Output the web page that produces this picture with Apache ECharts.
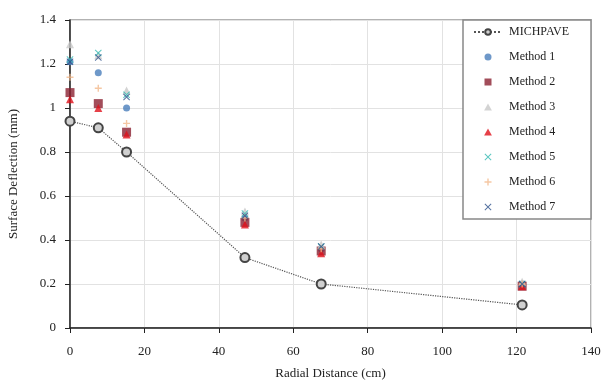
<!DOCTYPE html>
<html><head><meta charset="utf-8">
<script src="https://cdn.jsdelivr.net/npm/echarts@6/dist/echarts.min.js"></script>
<style>html,body{margin:0;padding:0;background:#fff}#c{width:607px;height:383px}</style>
</head><body><div id="c"></div>
<script>
const distances = [0, 7.6, 15.2, 47, 67.5, 121.5];
const michpave = [0.94, 0.91, 0.80, 0.32, 0.20, 0.105];
const method1 = [1.21, 1.16, 1.00, 0.50, 0.36, 0.20];
const method2 = [1.07, 1.02, 0.89, 0.48, 0.35, 0.19];
const method3 = [1.29, 1.24, 1.08, 0.53, 0.38, 0.21];
const method4 = [1.04, 1.00, 0.88, 0.47, 0.34, 0.19];
const method5 = [1.22, 1.25, 1.06, 0.52, 0.37, 0.20];
const method6 = [1.14, 1.09, 0.93, 0.50, 0.36, 0.20];
const method7 = [1.21, 1.23, 1.05, 0.51, 0.37, 0.20];
const xTicks = [0, 20, 40, 60, 80, 100, 120, 140];
const yTicks = [0, 0.2, 0.4, 0.6, 0.8, 1, 1.2, 1.4];

const pair = arr => distances.map((d, i) => [d, arr[i]]);
const X = 'path://M0,1 L1,0 L5,4 L9,0 L10,1 L6,5 L10,9 L9,10 L5,6 L1,10 L0,9 L4,5Z';
const PLUS = 'path://M4,0H6V4H10V6H6V10H4V6H0V4H4Z';
const SQ = 'path://M0,0H10V10H0Z';
const TRI = 'path://M5,0L10,9H0Z';
const font = 'Liberation Serif, Times New Roman, serif';

const methods = [
  {name:'Method 1', data:method1, symbol:'circle', icon:'circle', size:7, color:'#4a7ebb'},
  {name:'Method 2', data:method2, symbol:'rect', icon:SQ, size:9, color:'#8b2131'},
  {name:'Method 3', data:method3, symbol:'triangle', icon:TRI, size:8, color:'#c8c8c8'},
  {name:'Method 4', data:method4, symbol:'triangle', icon:TRI, size:8, color:'#e0101a'},
  {name:'Method 5', data:method5, symbol:X, icon:X, size:7, color:'#2fb8b0'},
  {name:'Method 6', data:method6, symbol:PLUS, icon:PLUS, size:7, color:'#f2b98c'},
  {name:'Method 7', data:method7, symbol:X, icon:X, size:7, color:'#2b4f8a'}
];

const series = [{
  name:'MICHPAVE', type:'line', data:pair(michpave), symbol:'circle', symbolSize:9,
  lineStyle:{color:'#555', width:1.2, type:'dotted'},
  itemStyle:{color:'#d0d0d0', borderColor:'#444', borderWidth:2}, z:3
}].concat(methods.map(m => ({
  name:m.name, type:'scatter', data:pair(m.data), symbol:m.symbol, symbolSize:m.size,
  itemStyle:{color:m.color}, z:4
})));

const chart = echarts.init(document.getElementById('c'));
chart.setOption({
  animation:false,
  backgroundColor:'#fff',
  grid:{left:70, right:16, top:20, bottom:55, show:true, borderColor:'#999', borderWidth:1.5,
    containLabel:false, outerBoundsMode:'none'},
  xAxis:{type:'value', min:0, max:140, interval:20,
    name:'Radial Distance (cm)', nameLocation:'middle', nameGap:39,
    nameTextStyle:{fontFamily:font, fontSize:13, color:'#222'},
    axisLine:{lineStyle:{color:'#222', width:1.5}}, axisTick:{inside:false, length:5, lineStyle:{color:'#222'}},
    axisLabel:{fontFamily:font, fontSize:13, color:'#222', margin:17},
    splitLine:{lineStyle:{color:'#e2e2e2'}}},
  yAxis:{type:'value', min:0, max:1.4, interval:0.2,
    name:'Surface Deflection (mm)', nameLocation:'middle', nameGap:50,
    nameTextStyle:{fontFamily:font, fontSize:13, color:'#222'},
    axisLine:{show:true, lineStyle:{color:'#222', width:1.5}}, axisTick:{show:true, length:5, lineStyle:{color:'#222'}},
    axisLabel:{fontFamily:font, fontSize:13, color:'#222', margin:14,
      formatter: v => String(Math.round(v*10)/10)},
    splitLine:{lineStyle:{color:'#e2e2e2'}}},
  legend:{orient:'vertical', left:463, top:20,
    padding:[6, 22, 6, 10], itemGap:13, itemWidth:28, itemHeight:7, symbolKeepAspect:true,
    backgroundColor:'#fff', borderColor:'#888', borderWidth:1.5,
    textStyle:{fontFamily:font, fontSize:12, color:'#222', padding:[0,0,0,2]},
    data:[{name:'MICHPAVE'}].concat(methods.map(m=>({name:m.name, icon:m.icon})))},
  series:series
});
</script></body></html>
